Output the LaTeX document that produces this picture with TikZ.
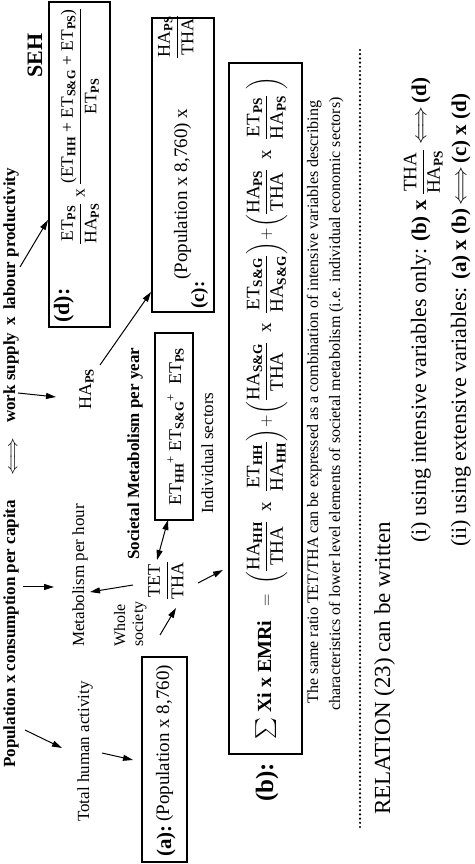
\documentclass[tikz,border=0pt]{standalone}
\usepackage{amsmath}
\usepackage{graphicx}
\usepackage{fontspec}
\setmainfont{Liberation Serif}
\usetikzlibrary{arrows.meta}
\newcommand{\sbs}[1]{\textsubscript{\bfseries #1}}
\newcommand{\tfr}[2]{\dfrac{\text{#1}}{\text{#2}}}
\newcommand{\fsz}[1]{\fontsize{#1}{#1}\selectfont}
\newcommand{\dbl}{$\Longleftrightarrow$}
\tikzset{
  txt/.style={inner sep=0pt, anchor=base west},
  ctr/.style={inner sep=0pt, anchor=base},
  boxs/.style={draw, line width=1.1pt, inner sep=0pt},
  arr/.style={-{Triangle[length=10pt,width=6pt]}, line width=1pt},
  darr/.style={{Triangle[length=10pt,width=6pt]}-{Triangle[length=10pt,width=6pt]}, line width=1pt},
  dotl/.style={line width=2.4pt, dash pattern=on 0pt off 4.2pt, line cap=round}
}
\begin{document}
\begin{tikzpicture}[x=1pt, y=-1pt, rotate=90, transform shape]
\useasboundingbox (0,0) rectangle (864,474);
% ---------- top bold line
\node[txt, font=\fsz{17}\bfseries] (pop) at (96,15) {Population};
\node[txt, font=\fsz{17}\bfseries] (cons) at (180,15) {x consumption per capita};
\node[txt, font=\fsz{17}\bfseries] (eqv) at (388,17) {\scalebox{1.2}[1]{\dbl}};
\node[txt, font=\fsz{17}\bfseries] (work) at (441,15) {work supply};
\node[txt, font=\fsz{17}\bfseries] (xx) at (538,15) {x};
\node[txt, font=\fsz{17}\bfseries] (lab) at (554,15) {labour productivity};
\node[txt, font=\fsz{22}\bfseries] (seh) at (786,42) {SEH};
% ---------- second row
\node[txt, font=\fsz{17}] (tha) at (42,89) {Total human activity};
\node[txt, font=\fsz{17}] (meta) at (217,84) {Metabolism per hour};
\node[txt, font=\fsz{18}] (haps) at (454,91) {HA\sbs{PS}};
% ---------- (a) box
\node[boxs, minimum width=205pt, minimum height=45pt] (boxa) at (104.5,164.5) {};
\node[txt, font=\fsz{21}\bfseries] (alab) at (7,171) {(a):};
\node[txt, font=\fsz{19}] (atxt) at (42,169) {(Population x 8,760)};
% ---------- whole society
\node[txt, font=\fsz{16}] (whole) at (217,125) {Whole};
\node[txt, font=\fsz{16}] (soc) at (217,143) {society};
\node[ctr, font=\fsz{18}] (tet) at (283,171.5) {$\tfr{TET}{THA}$};
% ---------- societal metabolism
\node[txt, font=\fsz{17}\bfseries] (smpy) at (304,139) {Societal Metabolism per year};
\node[boxs, minimum width=187pt, minimum height=38pt] (boxs) at (437.5,174) {};
\node[ctr, font=\fsz{18}] (sectxt) at (437.5,181) {ET\sbs{HH}\textsuperscript{+} ET\sbs{S\&G}\textsuperscript{+}\ \ ET\sbs{PS}};
\node[txt, font=\fsz{17}] (indiv) at (350,213) {Individual sectors};
% ---------- (c) box
\node[boxs, minimum width=294pt, minimum height=62pt] (boxc) at (699,183) {};
\node[txt, font=\fsz{19}\bfseries] (clab) at (555,204) {(c):};
\node[txt, font=\fsz{19}] (ctxt) at (584,187) {(Population x 8,760) x};
\node[ctr, font=\fsz{18}] (cfr) at (827,181.5) {$\tfr{HA\sbs{PS}}{THA}$};
% ---------- (d) box
\node[boxs, minimum width=325pt, minimum height=61pt] (boxd) at (699.5,79.5) {};
\node[txt, font=\fsz{22}\bfseries] (dlab) at (541,69) {(d):};
\node[txt, font=\fsz{17.5}] (dform) at (619,84.5) {$\tfr{ET\sbs{PS}}{HA\sbs{PS}}\ \text{x}\ \tfr{(ET\sbs{HH} + ET\sbs{S\&G} + ET\sbs{PS})}{ET\sbs{PS}}$};
% ---------- (b) box
\node[boxs, minimum width=691pt, minimum height=73pt] (boxb) at (455.5,265.5) {};
\node[txt, font=\fsz{25}\bfseries] (blab) at (62,273) {(b):};
\node[txt, font=\fsz{19}] (bform) at (124,271) {{\fsz{20}\bfseries $\sum$ Xi x EMRi}\ \ \ $=$\ \ $\left(\tfr{HA\sbs{HH}}{THA}\ \ \text{x}\ \ \tfr{ET\sbs{HH}}{HA\sbs{HH}}\right)\!+\!\left(\tfr{HA\sbs{S\&G}}{THA}\ \ \text{x}\ \ \tfr{ET\sbs{S\&G}}{HA\sbs{S\&G}}\right)\!+\!\left(\tfr{HA\sbs{PS}}{THA}\ \ \text{x}\ \ \tfr{ET\sbs{PS}}{HA\sbs{PS}}\ \right)$};
\node[ctr, font=\fsz{16}] (note1) at (462,318) {The same ratio TET/THA can be expressed as a combination of intensive variables describing};
\node[ctr, font=\fsz{16}] (note2) at (460,340) {characteristics of lower level elements of societal metabolism (i.e. individual economic sectors)};
% ---------- dotted line and relation
\coordinate (dl1) at (37,360); \coordinate (dl2) at (816,360);
\draw[dotl] (dl1) -- (dl2);
\node[txt, font=\fsz{23}] (rel) at (49,390) {RELATION (23) can be written};
% (i)
\node[txt, font=\fsz{22}] (li) at (321,426) {(i) using intensive variables only:};
\node[txt, font=\fsz{21}\bfseries] (lib) at ([xshift=6pt]li.base east) {(b) x};
\node[txt, font=\fsz{19}] (lifr) at ([xshift=5pt, yshift=-2pt]lib.base east) {$\tfr{THA}{HA\sbs{PS}}$};
\node[txt, font=\fsz{21}] (lieq) at ([xshift=4pt]lifr.base east |- lib.base) {\dbl};
\node[txt, font=\fsz{21}\bfseries] (lid) at ([xshift=3pt]lieq.base east) {(d)};
% (ii)
\node[txt, font=\fsz{22}] (lii) at (317,466) {(ii) using extensive variables:};
\node[txt, font=\fsz{21}\bfseries] (liia) at ([xshift=7pt]lii.base east) {(a) x (b)};
\node[txt, font=\fsz{21}] (liieq) at ([xshift=3pt]liia.base east) {\dbl};
\node[txt, font=\fsz{21}\bfseries] (liic) at ([xshift=3pt]liieq.base east) {(c) x (d)};
% ---------- arrows
\coordinate (a1s) at (134,25); \coordinate (a1e) at (116,62);
\coordinate (a2s) at (111,102); \coordinate (a2e) at (104,133);
\coordinate (a3s) at (277,23); \coordinate (a3e) at (277,54);
\coordinate (a4s) at (279,133); \coordinate (a4e) at (272,90);
\coordinate (a5s) at (471,18); \coordinate (a5e) at (467,56);
\coordinate (a6s) at (499,100); \coordinate (a6e) at (572,151);
\coordinate (a7s) at (597,20); \coordinate (a7e) at (644,48);
\coordinate (a8s) at (229,160); \coordinate (a8e) at (256,176);
\coordinate (a9s) at (281,198); \coordinate (a9e) at (294,223);
\coordinate (a10s) at (304,157); \coordinate (a10e) at (344,168);
\draw[arr] (a1s) -- (a1e);
\draw[arr] (a2s) -- (a2e);
\draw[arr] (a3s) -- (a3e);
\draw[arr] (a4s) -- (a4e);
\draw[arr] (a5s) -- (a5e);
\draw[arr] (a6s) -- (a6e);
\draw[arr] (a7s) -- (a7e);
\draw[arr] (a8s) -- (a8e);
\draw[arr] (a9s) -- (a9e);
\draw[darr] (a10s) -- (a10e);
\end{tikzpicture}
\end{document}
